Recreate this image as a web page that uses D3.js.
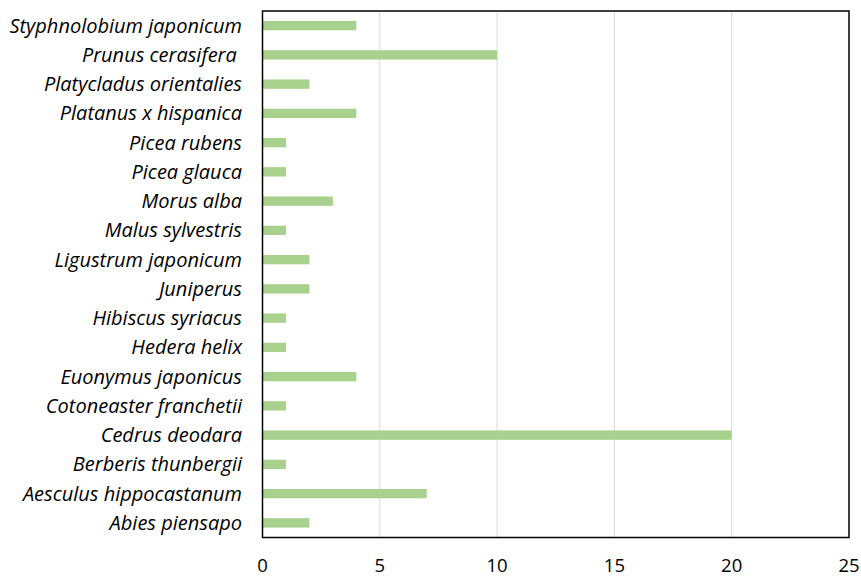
<!DOCTYPE html>
<html>
<head>
<meta charset="utf-8">
<script src="https://cdn.jsdelivr.net/npm/d3@7"></script>
<style>
	body { margin: 0; background: #fff; }
	text { font-family: "Open Sans", "Liberation Sans", sans-serif; }
</style>
</head>
<body>
<script>
	"use strict";

	var species = [
		"Styphnolobium japonicum", "Prunus cerasifera ", "Platycladus orientalies",
		"Platanus x hispanica", "Picea rubens", "Picea glauca", "Morus alba",
		"Malus sylvestris", "Ligustrum japonicum", "Juniperus", "Hibiscus syriacus",
		"Hedera helix", "Euonymus japonicus", "Cotoneaster franchetii",
		"Cedrus deodara", "Berberis thunbergii", "Aesculus hippocastanum", "Abies piensapo"
	];
	var counts = [4, 10, 2, 4, 1, 1, 3, 1, 2, 2, 1, 1, 4, 1, 20, 1, 7, 2];
	var xTicks = [0, 5, 10, 15, 20, 25];

	(function () {
		var w = 861, h = 576;
		var plotL = 262.5, plotR = 849, plotT = 11, plotB = 537.5;

		var svg = d3.select("body").append("svg")
			.attr("width", w)
			.attr("height", h);

		var xScale = d3.scaleLinear().domain([0, 25]).range([plotL, plotR]);
		var yScale = d3.scaleBand().domain(species).range([plotT, plotB]).paddingInner(0.68).paddingOuter(0.34);

		// gridlines
		svg.append("g")
			.selectAll("line")
			.data(xTicks.slice(1, -1))
			.enter().append("line")
			.attr("x1", (d) => xScale(d))
			.attr("x2", (d) => xScale(d))
			.attr("y1", plotT)
			.attr("y2", plotB)
			.attr("stroke", "#d9d9d9")
			.attr("stroke-width", 1);

		// bars
		svg.append("g")
			.selectAll("rect")
			.data(counts)
			.enter().append("rect")
			.attr("x", xScale(0))
			.attr("y", (d, i) => yScale(species[i]))
			.attr("width", (d) => xScale(d) - xScale(0))
			.attr("height", yScale.bandwidth())
			.attr("fill", "#a9d18e");

		// frame
		svg.append("rect")
			.attr("x", plotL)
			.attr("y", plotT)
			.attr("width", plotR - plotL)
			.attr("height", plotB - plotT)
			.attr("fill", "none")
			.attr("stroke", "#000")
			.attr("stroke-width", 1.5);

		// category labels
		svg.append("g")
			.selectAll("text")
			.data(species)
			.enter().append("text")
			.attr("x", 242)
			.attr("y", (d) => yScale(d) + yScale.bandwidth() / 2)
			.attr("dy", "0.35em")
			.attr("text-anchor", "end")
			.attr("font-style", "italic")
			.attr("font-size", 20)
			.attr("fill", "#000")
			.style("white-space", "pre")
			.text((d) => d);

		// x tick labels
		svg.append("g")
			.selectAll("text")
			.data(xTicks)
			.enter().append("text")
			.attr("x", (d) => xScale(d))
			.attr("y", 566)
			.attr("dy", "0.35em")
			.attr("text-anchor", "middle")
			.attr("font-size", 18.5)
			.attr("fill", "#000")
			.text((d) => d);
	})();
</script>
</body>
</html>
